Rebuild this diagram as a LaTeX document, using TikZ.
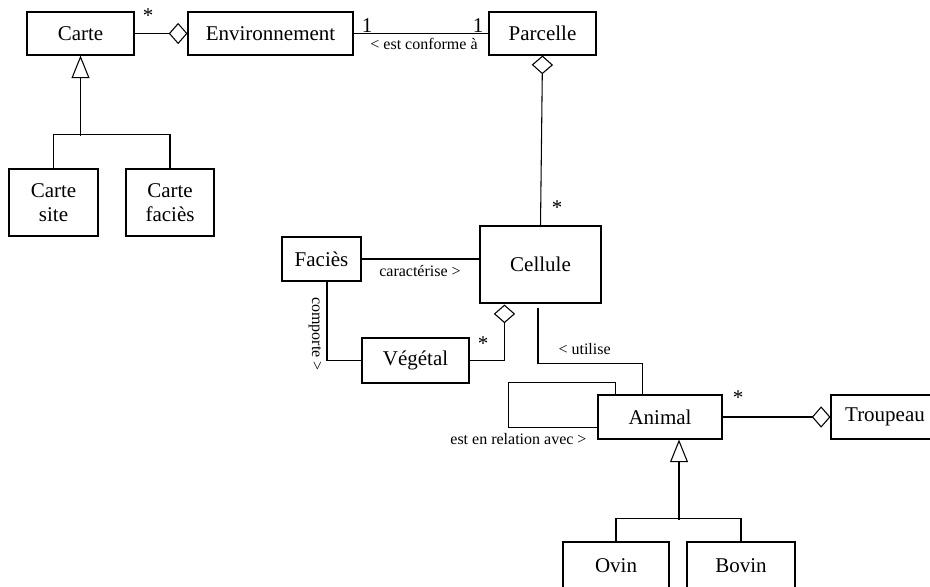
\documentclass[tikz,border=0pt]{standalone}
\usepackage{fontspec}
\setmainfont{Liberation Serif}
\usetikzlibrary{arrows.meta,calc}

\begin{document}
\begin{tikzpicture}[x=0.75pt,y=-0.75pt,
  line width=0.8pt,
  classbox/.style 2 args={draw, rectangle, inner sep=0pt,
    minimum width=#1*0.75pt, minimum height=#2*0.75pt,
    font=\fontsize{15.75}{18}\selectfont, align=center},
  lbl/.style={font=\fontsize{12}{14}\selectfont, inner sep=0pt},
  mult/.style={font=\fontsize{15.75}{18}\selectfont, inner sep=0pt},
  aggr/.style={-{Diamond[open,length=14pt,width=16pt]}},
  gen/.style={-{Triangle[open,length=17pt,width=13.5pt]}}]

\useasboundingbox (0,0) rectangle (930,586);

% classes
\node[classbox={107}{43}] (carte) at (80.5,33.5) {Carte};
\node[classbox={165}{43}] (env) at (270.5,33.5) {Environnement};
\node[classbox={107}{43}] (parcelle) at (542.5,33.5) {Parcelle};
\node[classbox={89}{67}] (cartesite) at (53.5,202.5) {Carte\\site};
\node[classbox={88}{67}] (cartefacies) at (170,202.5) {Carte\\faciès};
\node[classbox={79}{44}] (facies) at (321.5,259) {Faciès};
\node[classbox={121}{77}] (cellule) at (540.5,264.5) {Cellule};
\node[classbox={107}{45}] (vegetal) at (415.5,360.5) {Végétal};
\node[classbox={124}{44}] (animal) at (660,417) {Animal};
\node[classbox={108}{44}] (troupeau) at (885,417) {Troupeau};
\node[classbox={106}{48}] (ovin) at (616,566) {Ovin};
\node[classbox={108}{48}] (bovin) at (741,566) {Bovin};

% Carte -- Environnement (aggregation)
\draw[aggr] (carte.east) -- (env.west);
\node[mult] (m1) at (148,16) {*};

% Environnement -- Parcelle
\draw (env.east) -- (parcelle.west);
\node[mult, anchor=south] (m2) at (367,33) {1};
\node[mult, anchor=south] (m3) at (478,33) {1};
\node[lbl] (l1) at (424,44) {< est conforme à};

% Parcelle -- Cellule (aggregation)
\draw[aggr] (cellule.north) -- (parcelle.south);
\node[mult] (m4) at (557,208) {*};

% Carte generalization
\coordinate (hubA) at ($(carte.south)+(0,80)$);
\draw[gen] (hubA) -- (carte.south);
\draw (cartesite.north) -- ++(0,-34) -| (cartefacies.north);

% Faciès -- Cellule
\draw (facies.east) -- (facies.east -| cellule.west);
\node[lbl] (l2) at (420,271) {caractérise >};

% Faciès -- Végétal
\coordinate (fv) at ($(facies.south)+(5.5,0)$);
\draw (fv) |- (vegetal.west);
\node[lbl, rotate=-90] (l3) at (315,334) {comporte >};

% Cellule -- Végétal (aggregation)
\coordinate (cv) at ($(cellule.south west)+(25,1)$);
\draw[aggr] (vegetal.east) -| (cv);
\node[mult] (m5) at (483,344) {*};

% Cellule -- Animal
\coordinate (u0) at ($(cellule.south)+(-2.5,4)$);
\coordinate (u1) at ($(animal.north west)+(45,0)$);
\draw (u0) -- ($(u0)+(0,56)$) -| (u1);
\node[lbl, anchor=west] (l4) at (558,349) {< utilise};

% Animal self relation
\coordinate (s0) at ($(animal.north west)+(18,0)$);
\coordinate (s1) at ($(animal.north west)+(0,33)$);
\draw (s0) -- ++(0,-12) -- ++(-107,0) |- (s1);
\node[lbl, anchor=east] (l5) at (587,439) {est en relation avec >};

% Animal -- Troupeau (aggregation)
\draw[aggr] (animal.east) -- (troupeau.west);
\node[mult] (m6) at (738,398) {*};

% Animal generalization
\coordinate (tipB) at ($(animal.south)+(19,0)$);
\coordinate (hubB) at ($(tipB)+(0,80)$);
\draw[gen] (hubB) -- (tipB);
\draw (ovin.north) -- ++(0,-23) -| (bovin.north);

\end{tikzpicture}
\end{document}
